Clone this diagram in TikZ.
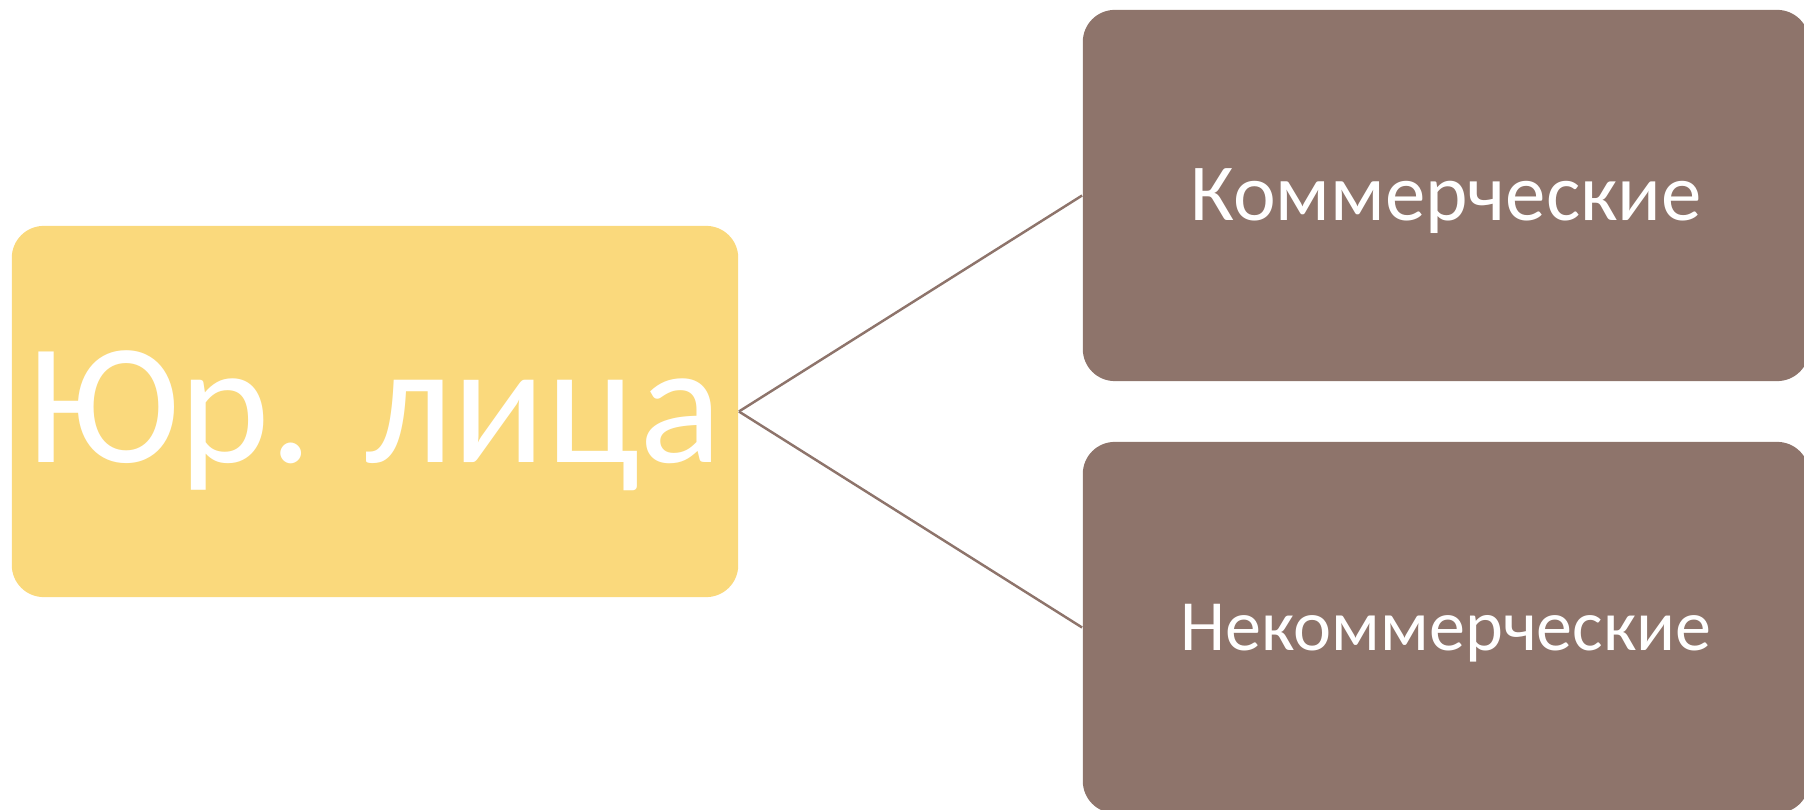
\documentclass[tikz,border=0pt]{standalone}
\usepackage{fontspec}
\setmainfont{Carlito}
\usetikzlibrary{positioning}
\definecolor{gold}{HTML}{FAD97C}
\definecolor{taupe}{HTML}{8E746B}

\begin{document}
\begin{tikzpicture}[x=0.01cm, y=-0.01cm,
  box/.style={rectangle, rounded corners=0.32cm, text=white, inner sep=0pt,
    minimum height=3.71cm, minimum width=7.26cm},
  link/.style={draw=taupe, line width=0.7pt}]
\useasboundingbox (0,0) rectangle (1804,810);
\node[box, fill=gold, text height=1.3cm, text depth=0.29cm,
  font=\fontsize{49}{49}\selectfont] (jur) at (375,411.5) {Юр. лица};
\node[box, fill=taupe, text height=0.6cm, text depth=0.11cm,
  font=\fontsize{23}{23}\selectfont] (kom) at (1446,195.5) {Коммерческие};
\node[box, fill=taupe, text height=0.56cm, text depth=0.11cm,
  font=\fontsize{20.5}{20.5}\selectfont] (nekom) at (1446,627.5) {Некоммерческие};
\draw[link] (jur.east) -- (kom.west);
\draw[link] (jur.east) -- (nekom.west);
\end{tikzpicture}
\end{document}
